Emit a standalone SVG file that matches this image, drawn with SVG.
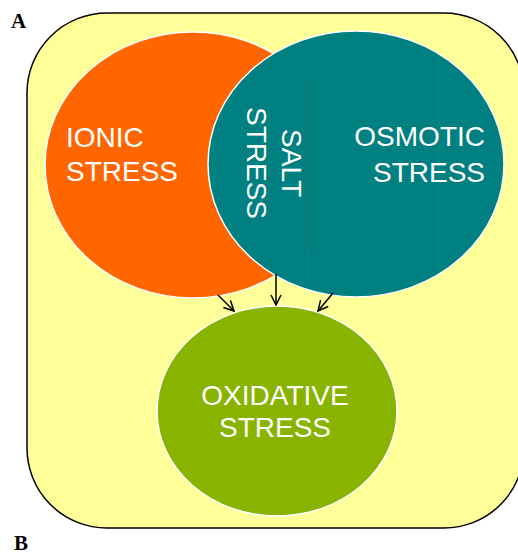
<svg xmlns="http://www.w3.org/2000/svg" width="518" height="556" viewBox="0 0 518 556">
<style>
.lbl{font-family:"Liberation Serif","Times New Roman",serif;font-weight:bold;font-size:21px;fill:#000}
.t{font-family:"Liberation Sans",Arial,sans-serif;font-size:28px;fill:#fff}
.ell{stroke:#fff;stroke-width:1.5}
.conn{stroke:#000;stroke-width:1.5;fill:none}
.art{stroke:#2a8a7a;stroke-width:0.6;opacity:0.5}
</style>
<defs>
<marker id="ah" viewBox="0 0 12 12" refX="11" refY="6" markerWidth="12" markerHeight="12" markerUnits="userSpaceOnUse" orient="auto">
<path d="M1,1 L11,6 L1,11" fill="none" stroke="#000" stroke-width="1.5"/>
</marker>
<clipPath id="tc"><ellipse cx="356" cy="164" rx="146" ry="131"/></clipPath>
</defs>
<rect width="518" height="556" fill="#fff"/>
<text class="lbl" x="11" y="28">A</text>
<text class="lbl" x="14" y="550">B</text>
<rect id="frame" x="27" y="13" width="497" height="515" rx="80" ry="80" fill="#FFFF99" stroke="#000" stroke-width="1.5"/>
<g id="ionic">
<ellipse class="ell" cx="193" cy="165" rx="148" ry="133" fill="#FF6600"/>
<text class="t" x="66" y="147">IONIC</text>
<text class="t" x="66" y="181">STRESS</text>
</g>
<g id="osmotic">
<ellipse class="ell" cx="356" cy="164" rx="148" ry="133" fill="#008080"/>
<g clip-path="url(#tc)">
<line class="art" x1="308" y1="80" x2="308" y2="250" style="stroke:#8a6a30"/>
<line class="art" x1="308" y1="250" x2="308" y2="300"/>
<line class="art" x1="411" y1="30" x2="411" y2="300"/>
<line class="art" x1="439" y1="30" x2="439" y2="300"/>
</g>
<text class="t" x="485" y="146" text-anchor="end">OSMOTIC</text>
<text class="t" x="485" y="182" text-anchor="end">STRESS</text>
</g>
<g id="salt">
<text class="t" transform="translate(282,163) rotate(90)" text-anchor="middle">SALT</text>
<text class="t" transform="translate(247,163) rotate(90)" text-anchor="middle">STRESS</text>
</g>
<g id="oxidative">
<ellipse class="ell" cx="277" cy="411" rx="120" ry="105" fill="#88B400"/>
<text class="t" x="275" y="405" text-anchor="middle">OXIDATIVE</text>
<text class="t" x="275" y="437" text-anchor="middle">STRESS</text>
</g>
<g id="connectors">
<line class="conn" x1="218" y1="295" x2="234" y2="311" marker-end="url(#ah)"/>
<line class="conn" x1="276" y1="274" x2="276" y2="305" marker-end="url(#ah)"/>
<line class="conn" x1="333" y1="293" x2="318" y2="311" marker-end="url(#ah)"/>
</g>
</svg>
